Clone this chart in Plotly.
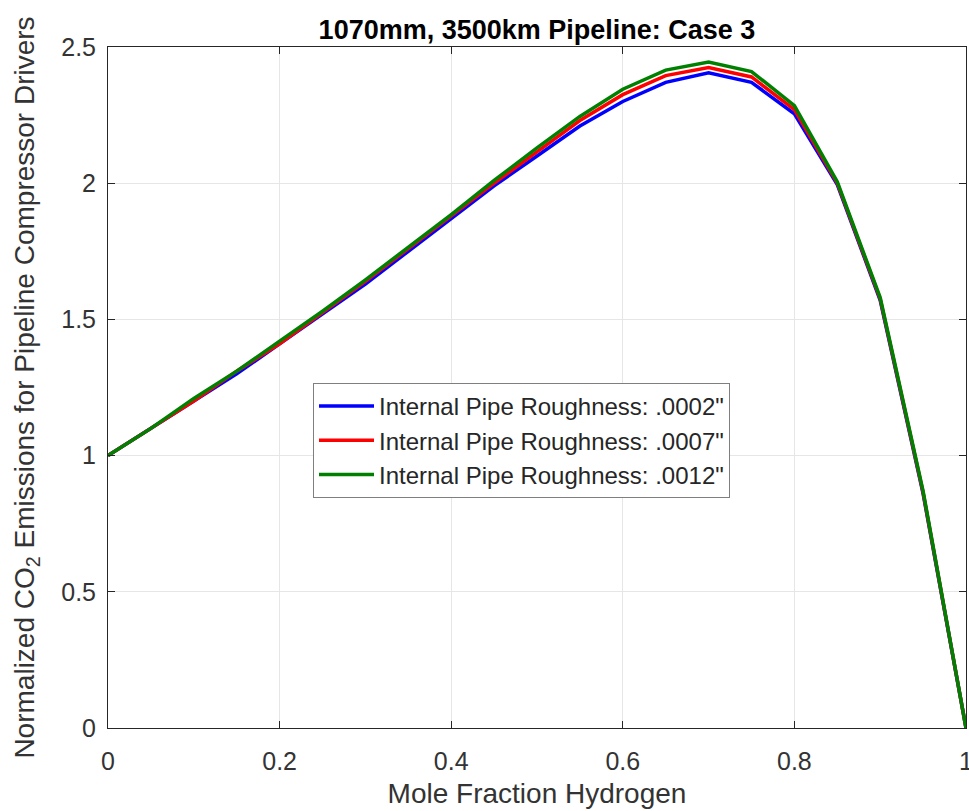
import plotly.graph_objects as go

x_h2 = [0, 0.05, 0.1, 0.15, 0.2, 0.25, 0.3, 0.35, 0.4, 0.45, 0.5, 0.55, 0.6, 0.65, 0.7, 0.75, 0.8, 0.85, 0.9, 0.95, 1.0]
rough_0002 = [1.0, 1.10, 1.20, 1.30, 1.41, 1.52, 1.63, 1.75, 1.87, 1.99, 2.10, 2.21, 2.30, 2.37, 2.405, 2.37, 2.255, 1.995, 1.57, 0.86, 0.0]
rough_0007 = [1.0, 1.10, 1.20, 1.31, 1.41, 1.525, 1.64, 1.76, 1.88, 2.00, 2.115, 2.23, 2.325, 2.395, 2.425, 2.39, 2.27, 2.0, 1.575, 0.865, 0.0]
rough_0012 = [1.0, 1.10, 1.21, 1.31, 1.42, 1.53, 1.645, 1.765, 1.885, 2.01, 2.13, 2.245, 2.345, 2.415, 2.445, 2.41, 2.285, 2.005, 1.58, 0.87, 0.0]
series_names = ['Internal Pipe Roughness: .0002"', 'Internal Pipe Roughness: .0007"', 'Internal Pipe Roughness: .0012"']
series_colors = ["#0000ff", "#ff0000", "#008000"]
x_ticks = [0, 0.2, 0.4, 0.6, 0.8, 1]
x_tick_labels = ["0", "0.2", "0.4", "0.6", "0.8", "1"]
y_ticks = [0, 0.5, 1, 1.5, 2, 2.5]
y_tick_labels = ["0", "0.5", "1", "1.5", "2", "2.5"]

fig = go.Figure()
for name, ys, col in zip(series_names, [rough_0002, rough_0007, rough_0012], series_colors):
    fig.add_trace(go.Scatter(x=x_h2, y=ys, mode="lines", name=name,
                             line=dict(color=col, width=3.5)))

font_fam = "Liberation Sans, Arial, sans-serif"
axis_common = dict(showline=True, linecolor="#262626", linewidth=1, mirror="ticks",
                   ticks="inside", ticklen=7, tickcolor="#262626",
                   showgrid=True, gridcolor="#e6e6e6", gridwidth=1, zeroline=False,
                   ticklabeloverflow="allow", automargin=False,
                   tickfont=dict(family=font_fam, size=25, color="#333333"))

fig.update_layout(
    width=969, height=811,
    margin=dict(l=108, r=3, t=47, b=83),
    paper_bgcolor="white", plot_bgcolor="white",
    title=dict(text="<b>1070mm, 3500km Pipeline: Case 3</b>", x=(108 + 966) / 2 / 969, xanchor="center",
               y=1 - 30 / 811, yanchor="middle",
               font=dict(family=font_fam, size=27, color="#000000")),
    xaxis=dict(range=[0, 1], tickvals=x_ticks, ticktext=x_tick_labels, ticklabelstandoff=11,
               title=dict(text="Mole Fraction Hydrogen", font=dict(family=font_fam, size=28, color="#333333"), standoff=9),
               **axis_common),
    yaxis=dict(range=[0, 2.5], tickvals=y_ticks, ticktext=y_tick_labels, ticklabelstandoff=6,
               title=dict(text="Normalized CO<sub>2</sub> Emissions for Pipeline Compressor Drivers",
                          font=dict(family=font_fam, size=28, color="#333333"), standoff=18),
               **axis_common),
    legend=dict(x=(313 - 108) / 858, y=(728 - 383) / 681, xanchor="left", yanchor="top",
                bordercolor="#7f7f7f", borderwidth=1, bgcolor="white", itemwidth=55,
                font=dict(family=font_fam, size=24, color="#262626")),
    showlegend=True,
)

fig.write_html("out.html", config={"displayModeBar": False},
               post_script="document.body.style.margin='0px';document.body.style.overflow='hidden';")
